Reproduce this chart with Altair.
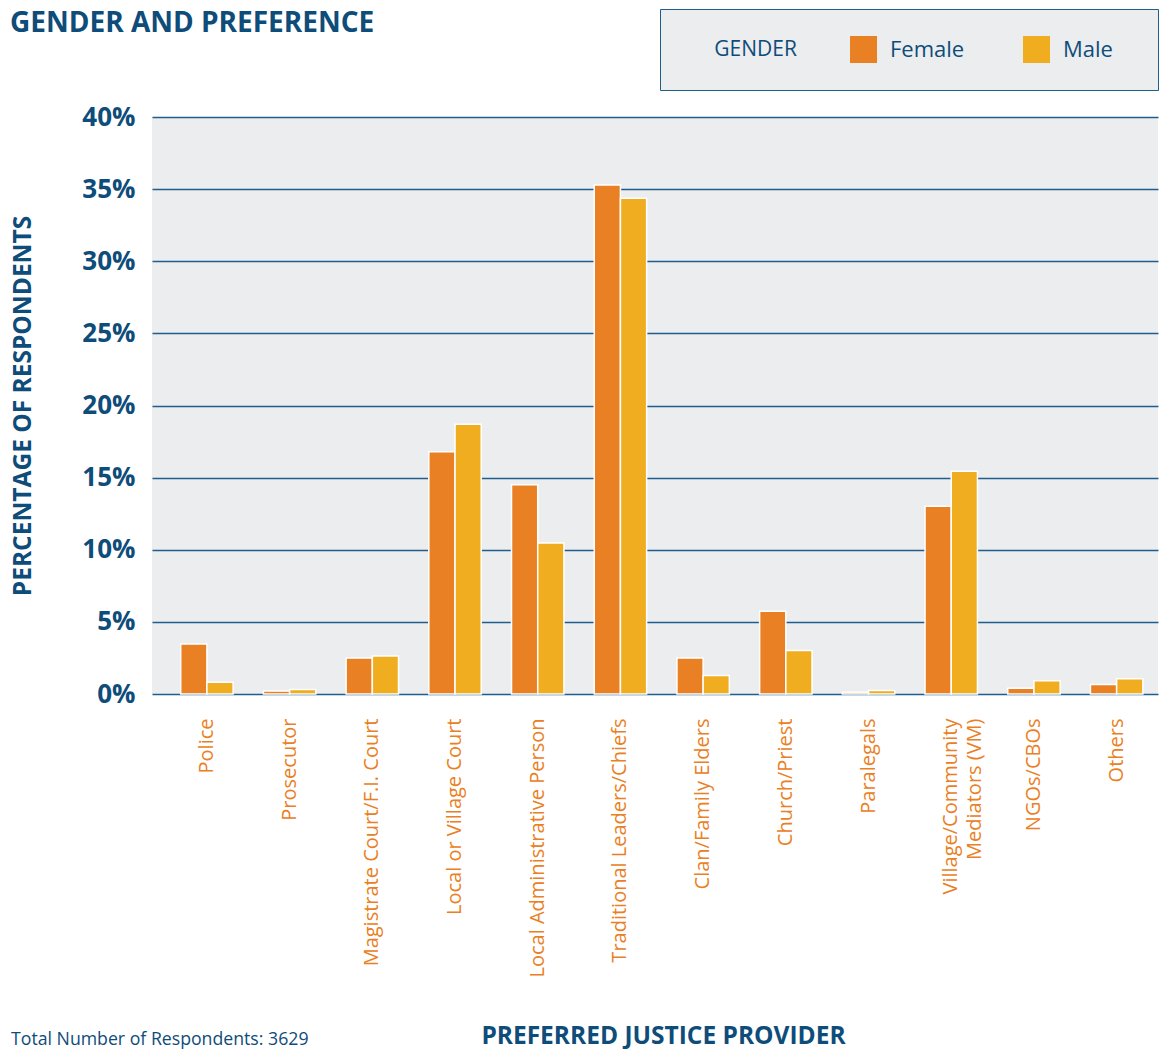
import altair as alt
import pandas as pd

# ---- data ----
categories = [
    "Police", "Prosecutor", "Magistrate Court/F.I. Court", "Local or Village Court",
    "Local Administrative Person", "Traditional Leaders/Chiefs", "Clan/Family Elders",
    "Church/Priest", "Paralegals", "Village/Community Mediators (VM)", "NGOs/CBOs", "Others",
]
female = [3.47, 0.2, 2.5, 16.8, 14.5, 35.28, 2.5, 5.73, 0.12, 13.02, 0.4, 0.66]
male = [0.82, 0.31, 2.64, 18.7, 10.46, 34.36, 1.28, 3.01, 0.24, 15.44, 0.91, 1.05]
genders = ["Female", "Male"]
gender_colors = ["#EA8024", "#F0AD1F"]
y_ticks = [0, 5, 10, 15, 20, 25, 30, 35, 40]
footnote = ["Total Number of Respondents: 3629"]

BLUE = "#0E4C7A"
GRID = "#1F5E8C"
BG = "#ECEDEF"
FONT = "Open Sans"
NB = "\u00a0"
ZW = "\u200b"

df = pd.DataFrame({
    "category": categories * 2,
    "gender": ["Female"] * len(categories) + ["Male"] * len(categories),
    "value": female + male,
})

label_expr = (
    "datum.label == 'Village/Community Mediators (VM)' ? "
    "['Village/Community', 'Mediators (VM)'] : datum.label"
)
legend_label_expr = "datum.label == 'Male' ? datum.label + '" + NB * 3 + ZW + "' : datum.label"

bars = alt.Chart(df).mark_bar(stroke="white", strokeWidth=1.5).encode(
    x=alt.X(
        "category:N",
        sort=categories,
        scale=alt.Scale(paddingInner=0, paddingOuter=0.082, align=1),
        axis=alt.Axis(
            title="PREFERRED JUSTICE PROVIDER",
            titleFont=FONT, titleFontSize=24.5, titleFontWeight="bold", titleColor=BLUE,
            titleX=511, titleY=349, titleBaseline="alphabetic", titleAlign="center",
            labelAngle=-90, labelAlign="right", labelBaseline="middle",
            labelColor="#EA8024", labelFont=FONT, labelFontSize=20,
            labelPadding=24, labelLimit=400, labelLineHeight=24,
            labelExpr=label_expr,
            ticks=False, domain=False, grid=False,
        ),
    ),
    xOffset=alt.XOffset(
        "gender:N", sort=genders,
        scale=alt.Scale(paddingInner=0, paddingOuter=0.578),
    ),
    y=alt.Y(
        "value:Q",
        scale=alt.Scale(domain=[0, 40], nice=False),
        axis=alt.Axis(
            title="PERCENTAGE OF RESPONDENTS",
            titleFont=FONT, titleFontSize=24.5, titleFontWeight="bold", titleColor=BLUE,
            titleX=-129, titleY=288.5, titleBaseline="middle", titleAngle=270,
            values=y_ticks, labelExpr="datum.value + '%'",
            labelFont=FONT, labelFontSize=26, labelFontWeight="bold", labelColor=BLUE,
            labelPadding=17,
            ticks=False, domain=False,
            grid=True, gridColor=GRID, gridWidth=1.5,
        ),
    ),
    color=alt.Color(
        "gender:N",
        sort=genders,
        scale=alt.Scale(domain=genders, range=gender_colors),
        legend=alt.Legend(
            orient="none", legendX=508, legendY=-108,
            direction="horizontal",
            title=ZW + NB * 5 + "GENDER", titleOrient="left",
            titleFont=FONT, titleFontSize=21, titleFontWeight="normal", titleColor=BLUE,
            titlePadding=53, titleBaseline="middle", titleAnchor="middle",
            labelFont=FONT, labelFontSize=22, labelColor=BLUE, labelOffset=13,
            labelExpr=legend_label_expr,
            symbolType="square", symbolSize=729, symbolStrokeWidth=0, symbolOpacity=1,
            columnPadding=58,
            fillColor=BG, strokeColor=GRID, padding=27,
        ),
    ),
)

note = alt.Chart(pd.DataFrame({"t": footnote})).mark_text(
    align="left", baseline="middle", font=FONT, fontSize=17.7, color=BLUE,
).encode(
    text="t:N",
    x=alt.value(-141),
    y=alt.value(923),
)

chart = alt.layer(bars, note).properties(
    width=1006,
    height=577,
    padding={"left": 2, "top": 0, "right": 0, "bottom": 0},
    title=alt.TitleParams(
        "GENDER AND PREFERENCE", anchor="start", frame="bounds",
        font=FONT, fontSize=28, fontWeight="bold", color=BLUE,
        baseline="top", offset=-29,
    ),
).configure_view(fill=BG, strokeWidth=0)

chart.save("out.html", embed_options={"renderer": "svg", "actions": False})
